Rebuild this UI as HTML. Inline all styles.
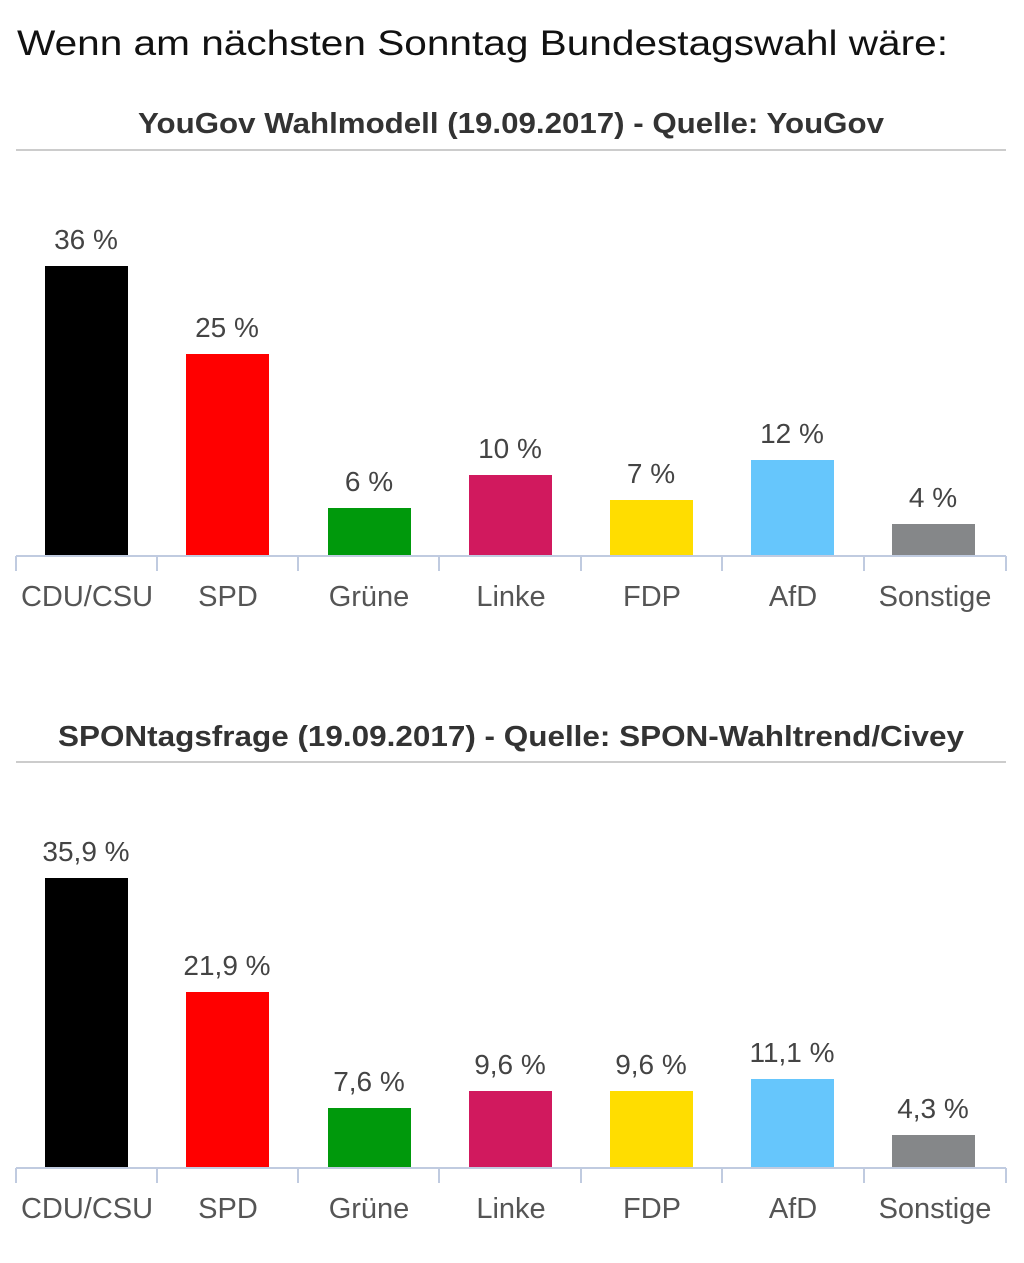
<!DOCTYPE html>
<html><head><meta charset="utf-8"><style>
html,body{margin:0;padding:0;background:#fff;}
svg{display:block;}
text{font-family:"Liberation Sans","DejaVu Sans",sans-serif;}
</style></head><body>
<svg width="1024" height="1263" viewBox="0 0 1024 1263" xmlns="http://www.w3.org/2000/svg">
<text x="17" y="55" font-size="35" fill="#111" textLength="931" lengthAdjust="spacingAndGlyphs">Wenn am nächsten Sonntag Bundestagswahl wäre:</text>

<g id="c1">
<text x="511" y="133" font-size="29" font-weight="bold" fill="#333" text-anchor="middle" textLength="746" lengthAdjust="spacingAndGlyphs">YouGov Wahlmodell (19.09.2017) - Quelle: YouGov</text>
<line x1="16" y1="150" x2="1006" y2="150" stroke="#ccc" stroke-width="2"/>
<rect x="45" y="266" width="83" height="290" fill="#000"/>
<rect x="186" y="354" width="83" height="202" fill="#ff0000"/>
<rect x="328" y="508" width="83" height="48" fill="#00990c"/>
<rect x="469" y="475" width="83" height="81" fill="#d1195e"/>
<rect x="610" y="500" width="83" height="56" fill="#ffdd00"/>
<rect x="751" y="460" width="83" height="96" fill="#66c6fc"/>
<rect x="892" y="524" width="83" height="32" fill="#858789"/>
<g font-size="28" fill="#444" text-anchor="middle">
<text x="86" y="249">36 %</text><text x="227" y="337">25 %</text><text x="369" y="491">6 %</text>
<text x="510" y="458">10 %</text><text x="651" y="483">7 %</text><text x="792" y="443">12 %</text><text x="933" y="507">4 %</text>
</g>
<line x1="16" y1="556" x2="1006" y2="556" stroke="#c0cbe0" stroke-width="2"/>
<g stroke="#c0cbe0" stroke-width="2">
<line x1="16" y1="556" x2="16" y2="571"/><line x1="157" y1="556" x2="157" y2="571"/><line x1="298" y1="556" x2="298" y2="571"/>
<line x1="439" y1="556" x2="439" y2="571"/><line x1="581" y1="556" x2="581" y2="571"/><line x1="722" y1="556" x2="722" y2="571"/>
<line x1="864" y1="556" x2="864" y2="571"/><line x1="1006" y1="556" x2="1006" y2="571"/></g>
<g font-size="29" fill="#555" text-anchor="middle">
<text x="87" y="606">CDU/CSU</text><text x="228" y="606">SPD</text><text x="369" y="606">Grüne</text><text x="511" y="606">Linke</text>
<text x="652" y="606">FDP</text><text x="793" y="606">AfD</text><text x="935" y="606">Sonstige</text>
</g>
</g>

<g>
<text x="511" y="746" font-size="29" font-weight="bold" fill="#333" text-anchor="middle" textLength="906" lengthAdjust="spacingAndGlyphs">SPONtagsfrage (19.09.2017) - Quelle: SPON-Wahltrend/Civey</text>
<line x1="16" y1="762" x2="1006" y2="762" stroke="#ccc" stroke-width="2"/>
<rect x="45" y="878" width="83" height="290" fill="#000"/>
<rect x="186" y="992" width="83" height="176" fill="#ff0000"/>
<rect x="328" y="1108" width="83" height="60" fill="#00990c"/>
<rect x="469" y="1091" width="83" height="77" fill="#d1195e"/>
<rect x="610" y="1091" width="83" height="77" fill="#ffdd00"/>
<rect x="751" y="1079" width="83" height="89" fill="#66c6fc"/>
<rect x="892" y="1135" width="83" height="33" fill="#858789"/>
<g font-size="28" fill="#444" text-anchor="middle">
<text x="86" y="861">35,9 %</text><text x="227" y="975">21,9 %</text><text x="369" y="1091">7,6 %</text>
<text x="510" y="1074">9,6 %</text><text x="651" y="1074">9,6 %</text><text x="792" y="1062">11,1 %</text><text x="933" y="1118">4,3 %</text>
</g>
<line x1="16" y1="1168" x2="1006" y2="1168" stroke="#c0cbe0" stroke-width="2"/>
<g stroke="#c0cbe0" stroke-width="2">
<line x1="16" y1="1168" x2="16" y2="1183"/><line x1="157" y1="1168" x2="157" y2="1183"/><line x1="298" y1="1168" x2="298" y2="1183"/>
<line x1="439" y1="1168" x2="439" y2="1183"/><line x1="581" y1="1168" x2="581" y2="1183"/><line x1="722" y1="1168" x2="722" y2="1183"/>
<line x1="864" y1="1168" x2="864" y2="1183"/><line x1="1006" y1="1168" x2="1006" y2="1183"/></g>
<g font-size="29" fill="#555" text-anchor="middle">
<text x="87" y="1218">CDU/CSU</text><text x="228" y="1218">SPD</text><text x="369" y="1218">Grüne</text><text x="511" y="1218">Linke</text>
<text x="652" y="1218">FDP</text><text x="793" y="1218">AfD</text><text x="935" y="1218">Sonstige</text>
</g>
</g>
</svg>
</body></html>
